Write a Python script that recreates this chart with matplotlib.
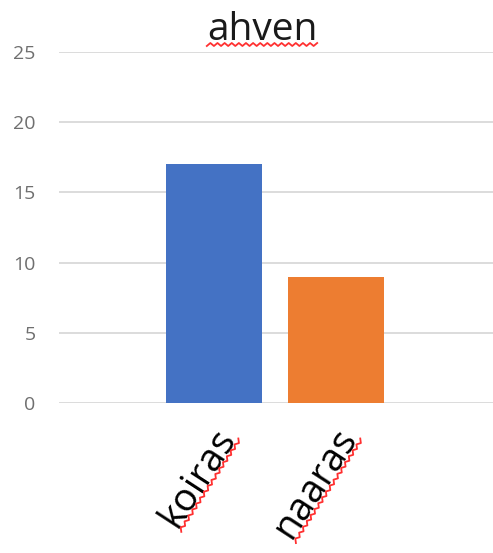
import numpy as np
import matplotlib.pyplot as plt
import matplotlib.transforms as mtransforms
from matplotlib.lines import Line2D

plt.rcParams['font.family'] = ['Open Sans', 'DejaVu Sans']

# data
categories = ["koiras", "naaras"]
values = [17, 9]
colors = ["#4472C4", "#ED7D31"]
title = "ahven"

W, H = 493, 553
fig = plt.figure(figsize=(W / 100, H / 100), dpi=100)
ax = fig.add_axes([59 / W, 1 - 403 / H, 1 - 59 / W, (403 - 52) / H])

x = np.arange(len(categories))
ax.bar(x, values, width=0.79, color=colors, zorder=3)
ax.set_xlim(-1.27, 2.29)
ax.set_ylim(0, 25)
ax.set_yticks(range(0, 26, 5))
ax.yaxis.grid(True, color="#d9d9d9", linewidth=1.3, zorder=0)
for s in ax.spines.values():
    s.set_visible(False)
ax.tick_params(axis="y", length=0, pad=17, labelsize=14, labelcolor="#6f6f6f")
ax.tick_params(axis="x", length=0)

LABEL_SIZE = 28
ANG = 57
ax.set_xticks(x)
ax.set_xticklabels(categories, rotation=ANG, ha="right", va="baseline",
                   rotation_mode="anchor", fontsize=LABEL_SIZE, color="black")
offset = mtransforms.ScaledTranslation(22 / 100, -29 / 100, fig.dpi_scale_trans)
for lab in ax.get_xticklabels():
    lab.set_transform(lab.get_transform() + offset)

t = fig.text(262 / W, 1 - 40 / H, title, ha="center", va="baseline",
             fontsize=28, color="#1a1a1a")


def squiggle(x0, y0, length, angle, drop=6):
    # wavy spell-check line in pixel coords starting at (x0, y0)
    n = int(length / 3.5) + 1
    s = np.linspace(0, length, n)
    w = np.where(np.arange(n) % 2 == 0, 0, 3.0) - drop
    a = np.deg2rad(angle)
    px = x0 + s * np.cos(a) + w * -np.sin(a)
    py = y0 + s * np.sin(a) + w * np.cos(a)
    fig.add_artist(Line2D(px, py, transform=None, color="#ff3030", linewidth=1.3))


fig.canvas.draw()
r = fig.canvas.get_renderer()
bb = t.get_window_extent(r)
squiggle(bb.x0, fig.transFigure.transform((0, 1 - 40 / H))[1], bb.width, 0)
for lab in ax.get_xticklabels():
    tmp = fig.text(0, 0, lab.get_text(), fontsize=LABEL_SIZE)
    tw = tmp.get_window_extent(r).width
    tmp.remove()
    ex, ey = lab.get_transform().transform(lab.get_position())
    a = np.deg2rad(ANG)
    squiggle(ex - tw * np.cos(a), ey - tw * np.sin(a), tw, ANG)

fig.savefig("out.png", dpi=100)
